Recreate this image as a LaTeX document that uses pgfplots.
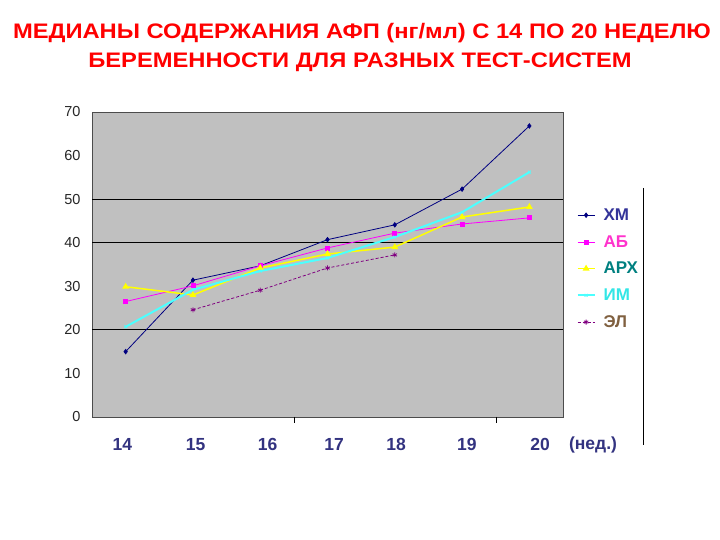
\documentclass[border=0pt]{standalone}
\usepackage{pgfplots}
\usepackage{graphicx}
\pgfplotsset{compat=1.18}
\usepackage{fontspec}
\setmainfont{Liberation Sans}
\definecolor{bg}{HTML}{C0C0C0}
\definecolor{cxm}{HTML}{000080}
\definecolor{cab}{HTML}{FF00FF}
\definecolor{carx}{HTML}{FFFF00}
\definecolor{cim}{HTML}{00FFFF}
\definecolor{cel}{HTML}{800080}
\definecolor{txm}{HTML}{333399}
\definecolor{tab}{HTML}{FF33CC}
\definecolor{tarx}{HTML}{008080}
\definecolor{tim}{HTML}{33E6E6}
\definecolor{tel}{HTML}{806040}
\definecolor{ttick}{HTML}{333380}
\begin{document}
\begin{tikzpicture}[x=1pt,y=1pt]
\path[use as bounding box] (0,0) rectangle (720,540);
\node[font=\bfseries\fontsize{21}{24}\selectfont, text=red] at (362,507) {\scalebox{1.13}[1]{МЕДИАНЫ СОДЕРЖАНИЯ АФП (нг/мл) С 14 ПО 20 НЕДЕЛЮ}};
\node[font=\bfseries\fontsize{21}{24}\selectfont, text=red] at (360,478) {\scalebox{1.13}[1]{БЕРЕМЕННОСТИ ДЛЯ РАЗНЫХ ТЕСТ-СИСТЕМ}};
\begin{axis}[
  at={(92pt,123pt)}, anchor=south west,
  scale only axis, width=471pt, height=305pt,
  xmin=13.5, xmax=20.5, ymin=0, ymax=70,
  axis background/.style={fill=bg},
  axis line style={gray!60!black},
  major tick length=0pt,
  ytick={0,10,...,70},
  xtick={13.95,15.04,16.11,17.1,18.02,19.07,20.16},
  xticklabels={14,15,16,17,18,19,20},
  x tick label style={font=\bfseries\fontsize{17.5}{20}\selectfont, text=ttick, yshift=-18pt},
  y tick label style={font=\fontsize{14.5}{16}\selectfont, text=black!85, xshift=-8pt},
  /pgf/number format/assume math mode=true,
  extra y ticks={20,40,50},
  extra y tick labels={},
  extra y tick style={grid=major, major grid style={black, line width=0.9pt}},
  clip=false,
  legend style={at={(1.022,0.697)}, anchor=north west, draw=none, fill=none,
    font=\bfseries\fontsize{17}{19}\selectfont, row sep=9.5pt},
  legend cell align=left,
]
\addplot[cxm, line width=0.8pt, mark=diamond*, mark size=2.2pt] coordinates {
 (14,15.0) (15,31.4) (16,34.7) (17,40.7) (18,44.1) (19,52.3) (20,66.8)};
\addlegendentry{\hspace{6pt}\textcolor{txm}{ХМ}}
\addplot[cab, line width=0.8pt, mark=square*, mark size=2pt] coordinates {
 (14,26.5) (15,30.1) (16,34.7) (17,38.8) (18,42.2) (19,44.3) (20,45.7)};
\addlegendentry{\hspace{6pt}\textcolor{tab}{АБ}}
\addplot[carx, line width=1.5pt, mark=triangle*, mark size=2.5pt] coordinates {
 (14,29.9) (15,28.0) (16,34.2) (17,37.4) (18,39.0) (19,45.9) (20,48.2)};
\addlegendentry{\hspace{6pt}\textcolor{tarx}{АРХ}}
\addplot[cim!70!white, line width=2pt, mark=x, mark size=2pt, mark options={line width=0.8pt}] coordinates {
 (14,20.7) (15,29.2) (16,33.5) (17,36.5) (18,41.3) (19,47.0) (20,56.2)};
\addlegendentry{\hspace{6pt}\textcolor{tim}{ИМ}}
\addplot[cel, line width=0.8pt, densely dashed, mark=asterisk, mark size=2.5pt, mark options={solid}] coordinates {
 (15,24.6) (16,29.1) (17,34.2) (18,37.2)};
\addlegendentry{\hspace{6pt}\textcolor{tel}{ЭЛ}}
\draw[black] (axis cs:16.5,0) -- ([yshift=-6pt]axis cs:16.5,0);
\draw[black] (axis cs:19.5,0) -- ([yshift=-6pt]axis cs:19.5,0);
\end{axis}
\node[font=\bfseries\fontsize{17.5}{20}\selectfont, text=ttick] at (593,95) {(нед.)};
\draw[black, line width=1pt] (643,352) -- (643,95);
\end{tikzpicture}
\end{document}
